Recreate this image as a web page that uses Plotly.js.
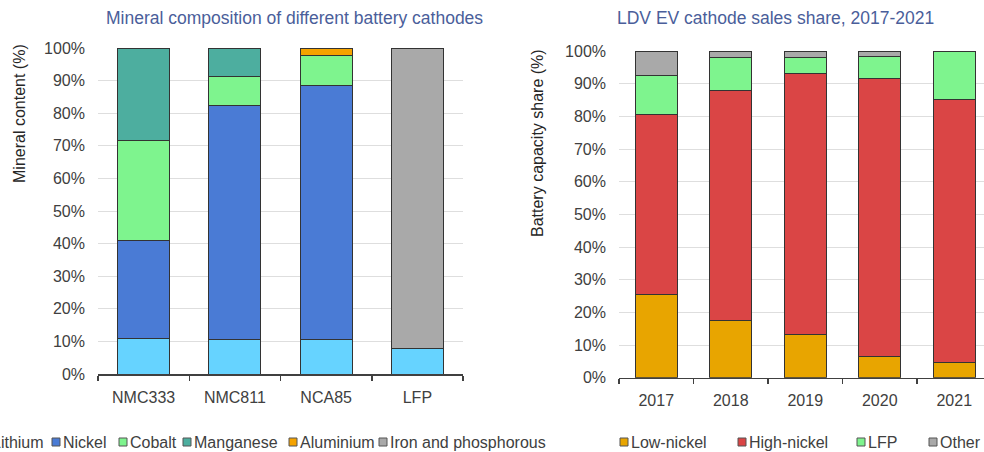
<!DOCTYPE html>
<html><head><meta charset="utf-8">
<script src="https://cdn.plot.ly/plotly-3.0.1.min.js"></script>
<style>html,body{margin:0;padding:0;overflow:hidden;background:#fff}#chart{width:1010px;height:452px}</style>
</head><body><div id="chart"></div>
<script>
// ---- data ----
const cathodes = ["NMC333", "NMC811", "NCA85", "LFP"];
const mineralNames = ["Lithium", "Nickel", "Cobalt", "Manganese", "Aluminium", "Iron and phosphorous"];
const lithium   = [11.0, 10.7, 10.6, 7.8];
const nickel    = [30.1, 71.8, 77.9, 0];
const cobalt    = [30.4, 8.9, 9.3, 0];
const manganese = [28.5, 8.6, 0, 0];
const aluminium = [0, 0, 2.2, 0];
const ironPhos  = [0, 0, 0, 92.2];
const mineralColors = ["#66D3FF", "#4A7BD5", "#7EF48E", "#4DAE9F", "#F5A300", "#A9A9A9"];

const years = ["2017", "2018", "2019", "2020", "2021"];
const shareNames = ["Low-nickel", "High-nickel", "LFP", "Other"];
const lowNickel  = [25.6, 17.4, 13.3, 6.5, 4.6];
const highNickel = [55.1, 70.5, 79.9, 85.2, 80.5];
const lfp        = [11.7, 10.2, 4.9, 6.6, 14.7];
const other      = [7.6, 1.9, 1.9, 1.7, 0.2];
const shareColors = ["#E8A500", "#DA4545", "#7EF48E", "#A9A9A9"];

const leftTitle = "Mineral composition of different battery cathodes";
const rightTitle = "LDV EV cathode sales share, 2017-2021";
const leftYTitle = "Mineral content (%)";
const rightYTitle = "Battery capacity share (%)";
const yTickVals = [0,10,20,30,40,50,60,70,80,90,100];
const yTickText = yTickVals.map(v => v + "%");

// ---- layout ----
const W = 1010, H = 452;
const px = v => v / W;
const py = v => 1 - v / H;
const FONT = "Liberation Sans, Arial, sans-serif";
const TXT = "#404040";

const mineralSeries = [lithium, nickel, cobalt, manganese, aluminium, ironPhos];
const shareSeries = [lowNickel, highNickel, lfp, other];
const traces = [];
mineralSeries.forEach((s, i) => traces.push({
  type: "bar", x: cathodes, y: s, name: mineralNames[i], xaxis: "x", yaxis: "y",
  marker: {color: mineralColors[i], line: {color: "#333333", width: 1}}, showlegend: false, hoverinfo: "skip"
}));
shareSeries.forEach((s, i) => traces.push({
  type: "bar", x: years, y: s, name: shareNames[i], xaxis: "x2", yaxis: "y2",
  marker: {color: shareColors[i], line: {color: "#333333", width: 1}}, showlegend: false, hoverinfo: "skip"
}));

const xCommon = {
  type: "category", showgrid: false, showline: true, linecolor: "#404040", linewidth: 1.5,
  ticks: "outside", tickson: "boundaries", ticklen: 5, tickcolor: "#404040", tickwidth: 1.5,
  tickfont: {family: FONT, size: 16, color: TXT}, ticklabelstandoff: 8, fixedrange: true
};
const yCommon = {
  range: [0, 100], tickvals: yTickVals, ticktext: yTickText, showgrid: true, gridcolor: "#DEDEDE", gridwidth: 1,
  zeroline: false, showline: false, ticks: "", tickfont: {family: FONT, size: 16, color: TXT},
  ticklabelstandoff: 12, fixedrange: true
};

const annotations = [
  {text: leftTitle, x: px(294), y: py(18), xref: "paper", yref: "paper", showarrow: false, xanchor: "center", yanchor: "middle",
   font: {family: FONT, size: 17.5, color: "#4A5E9A"}},
  {text: rightTitle, x: px(775), y: py(18), xref: "paper", yref: "paper", showarrow: false, xanchor: "center", yanchor: "middle",
   font: {family: FONT, size: 17.5, color: "#4A5E9A"}},
  {text: leftYTitle, x: px(19), y: py(114), xref: "paper", yref: "paper", showarrow: false, textangle: -90,
   xanchor: "center", yanchor: "middle", font: {family: FONT, size: 16, color: "#262626"}},
  {text: rightYTitle, x: px(537), y: py(143), xref: "paper", yref: "paper", showarrow: false, textangle: -90,
   xanchor: "center", yanchor: "middle", font: {family: FONT, size: 16, color: "#262626"}}
];
const shapes = [];
// legend items (positions in px)
const leftLegendX = [-19, 52, 119, 183, 289, 379];
const rightLegendX = [620, 738, 857, 929];
function addLegend(names, colors, xs) {
  names.forEach((n, i) => {
    const x0 = xs[i];
    shapes.push({type: "rect", xref: "paper", yref: "paper", x0: px(x0), x1: px(x0 + 8), y0: py(446), y1: py(438),
      fillcolor: colors[i], line: {color: "#555555", width: 1}});
    annotations.push({text: n, x: px(x0 + 9), y: py(442.5), xref: "paper", yref: "paper", showarrow: false,
      xanchor: "left", yanchor: "middle", font: {family: FONT, size: 16, color: TXT}});
  });
}
addLegend(mineralNames, mineralColors, leftLegendX);
addLegend(shareNames, shareColors, rightLegendX);

const layout = {
  width: W, height: H, margin: {l: 0, r: 0, t: 0, b: 0}, paper_bgcolor: "#fff", plot_bgcolor: "#fff",
  barmode: "stack", bargap: 0.43, showlegend: false,
  font: {family: FONT, color: TXT},
  xaxis: Object.assign({}, xCommon, {domain: [px(98), px(463)], anchor: "y"}),
  xaxis2: Object.assign({}, xCommon, {domain: [px(619), px(991.5)], anchor: "y2"}),
  yaxis: Object.assign({}, yCommon, {domain: [(452 - 374) / H, (452 - 48) / H], anchor: "x"}),
  yaxis2: Object.assign({}, yCommon, {domain: [(452 - 377.7) / H, (452 - 51) / H], anchor: "x2"}),
  annotations: annotations, shapes: shapes
};
Plotly.newPlot("chart", traces, layout, {staticPlot: true, displayModeBar: false});
</script></body></html>
